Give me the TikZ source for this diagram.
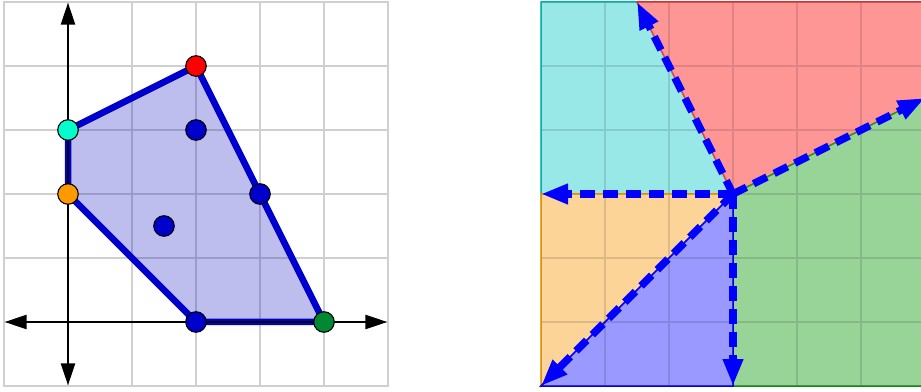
\documentclass[tikz,border=0pt]{standalone}
\usetikzlibrary{arrows.meta}
\definecolor{gridgray}{RGB}{208,208,208}
\definecolor{polyfill}{RGB}{0,0,190}
\definecolor{polyline}{RGB}{0,0,204}
\definecolor{ptred}{RGB}{255,0,0}
\definecolor{ptcyan}{RGB}{0,255,204}
\definecolor{ptorange}{RGB}{255,153,0}
\definecolor{ptblue}{RGB}{0,0,204}
\definecolor{ptgreen}{RGB}{0,136,51}
\definecolor{fcyan}{RGB}{153,232,232}
\definecolor{fred}{RGB}{255,150,150}
\definecolor{fgreen}{RGB}{152,212,152}
\definecolor{fblue}{RGB}{153,153,255}
\definecolor{forange}{RGB}{252,212,152}
\definecolor{bcyan}{RGB}{0,200,200}
\definecolor{bred}{RGB}{240,60,60}
\definecolor{bgreen}{RGB}{30,150,30}
\definecolor{bblue}{RGB}{0,0,255}
\definecolor{borange}{RGB}{255,165,0}
\definecolor{arrowblue}{RGB}{0,0,255}
\tikzset{
  axis/.style={black, line width=2.6pt, {Triangle[length=22pt,width=14pt]}-{Triangle[length=22pt,width=14pt]}},
  pt/.style={circle, draw=black, line width=1.1pt, minimum size=20.5pt, inner sep=0pt},
  region/.style={line width=1.5pt},
  fanarrow/.style={arrowblue, line width=7.5pt, dash pattern=on 15pt off 8pt, -{Triangle[length=27pt,width=19pt]}},
}
\begin{document}
\begin{tikzpicture}[x=1pt,y=1pt]
\useasboundingbox (0,0) rectangle (921,391);
\fill[white] (0,0) rectangle (921,391);
% ---------------- left plot ----------------
\begin{scope}[shift={(68,69)}, x=64pt, y=64pt]
  \draw[gridgray, line width=1.5pt, step=1] (-1,-1) grid (5,5);
  \draw[gridgray, line width=1.5pt] (-1,-1) rectangle (5,5);
  \coordinate (A) at (0,2);
  \coordinate (B) at (0,3);
  \coordinate (C) at (2,4);
  \coordinate (D) at (3,2);
  \coordinate (E) at (4,0);
  \coordinate (F) at (2,0);
  \fill[polyfill, opacity=0.26] (A) -- (B) -- (C) -- (E) -- (F) -- cycle;
  \draw[polyline, line width=6.5pt, line join=round] (A) -- (B) -- (C) -- (E) -- (F) -- cycle;
  \coordinate (xl) at (-0.99,0);
  \coordinate (xr) at (4.99,0);
  \coordinate (yb) at (0,-0.99);
  \coordinate (yt) at (0,4.99);
  \draw[axis] (xl) -- (xr);
  \draw[axis] (yb) -- (yt);
  \node[pt, fill=ptred] (pC) at (C) {};
  \node[pt, fill=ptcyan] (pB) at (B) {};
  \node[pt, fill=ptorange] (pA) at (A) {};
  \node[pt, fill=ptblue] (pD) at (D) {};
  \node[pt, fill=ptblue] (pG) at (2,3) {};
  \node[pt, fill=ptblue] (pH) at (1.5,1.5) {};
  \node[pt, fill=ptblue] (pF) at (F) {};
  \node[pt, fill=ptgreen] (pE) at (E) {};
\end{scope}
% ---------------- right plot ----------------
\begin{scope}
\clip (530,0) rectangle (921,391);
\begin{scope}[shift={(733,197)}, x=64pt, y=64pt]
  \coordinate (O) at (0,0);
  \coordinate (nc) at (-1.5,3);
  \coordinate (nr) at (3,1.5);
  \coordinate (nl) at (-3,0);
  \coordinate (ndl) at (-3,-3);
  \coordinate (nd) at (0,-3);
  \filldraw[fill=fcyan, draw=bcyan, region] (O) -- (nl) -- (-3,3) -- (nc) -- cycle;
  \filldraw[fill=fred, draw=bred, region] (O) -- (nc) -- (3,3) -- (nr) -- cycle;
  \filldraw[fill=fgreen, draw=bgreen, region] (O) -- (nr) -- (3,-3) -- (nd) -- cycle;
  \filldraw[fill=forange, draw=borange, region] (O) -- (ndl) -- (nl) -- cycle;
  \filldraw[fill=fblue, draw=bblue, region] (O) -- (nd) -- (ndl) -- cycle;
  \draw[black, opacity=0.12, line width=1.8pt, step=1] (-3,-3) grid (3,3);
  \draw[fanarrow] (O) -- (nc);
  \draw[fanarrow] (O) -- (nr);
  \draw[fanarrow] (O) -- (nl);
  \draw[fanarrow] (O) -- (ndl);
  \draw[fanarrow] (O) -- (nd);
\end{scope}
\end{scope}
\end{tikzpicture}
\end{document}
